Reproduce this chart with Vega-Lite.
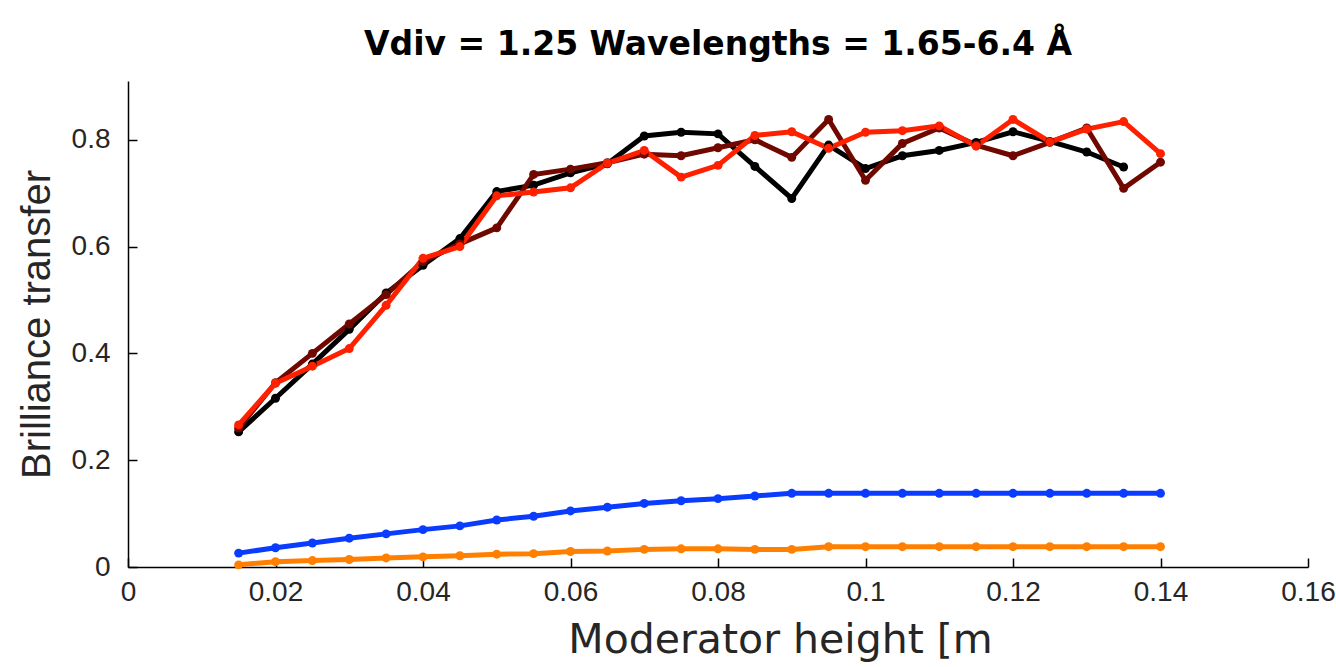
{
  "$schema": "https://vega.github.io/schema/vega-lite/v6.json",
  "autosize": "none",
  "width": 1180,
  "height": 486,
  "padding": {"left": 128, "top": 81, "right": 28, "bottom": 100},
  "background": "white",
  "config": {"view": {"stroke": null}, "font": "Liberation Sans"},
  "title": {"text": "Vdiv = 1.25 Wavelengths = 1.65-6.4 Å", "fontSize": 33, "fontWeight": "bold", "color": "#000000", "font": "DejaVu Sans", "offset": 19, "anchor": "middle"},
  "datasets": {
    "curves": [
      {"series": "black", "x": 0.015, "y": 0.253}, {"series": "black", "x": 0.02, "y": 0.316}, {"series": "black", "x": 0.025, "y": 0.38}, {"series": "black", "x": 0.03, "y": 0.445}, {"series": "black", "x": 0.035, "y": 0.513}, {"series": "black", "x": 0.04, "y": 0.565}, {"series": "black", "x": 0.045, "y": 0.615}, {"series": "black", "x": 0.05, "y": 0.703}, {"series": "black", "x": 0.055, "y": 0.715}, {"series": "black", "x": 0.06, "y": 0.738}, {"series": "black", "x": 0.065, "y": 0.755}, {"series": "black", "x": 0.07, "y": 0.807}, {"series": "black", "x": 0.075, "y": 0.814}, {"series": "black", "x": 0.08, "y": 0.811}, {"series": "black", "x": 0.085, "y": 0.75}, {"series": "black", "x": 0.09, "y": 0.69}, {"series": "black", "x": 0.095, "y": 0.79}, {"series": "black", "x": 0.1, "y": 0.746}, {"series": "black", "x": 0.105, "y": 0.77}, {"series": "black", "x": 0.11, "y": 0.78}, {"series": "black", "x": 0.115, "y": 0.795}, {"series": "black", "x": 0.12, "y": 0.815}, {"series": "black", "x": 0.125, "y": 0.797}, {"series": "black", "x": 0.13, "y": 0.777}, {"series": "black", "x": 0.135, "y": 0.749},
      {"series": "darkred", "x": 0.015, "y": 0.26}, {"series": "darkred", "x": 0.02, "y": 0.345}, {"series": "darkred", "x": 0.025, "y": 0.4}, {"series": "darkred", "x": 0.03, "y": 0.455}, {"series": "darkred", "x": 0.035, "y": 0.51}, {"series": "darkred", "x": 0.04, "y": 0.572}, {"series": "darkred", "x": 0.045, "y": 0.605}, {"series": "darkred", "x": 0.05, "y": 0.635}, {"series": "darkred", "x": 0.055, "y": 0.735}, {"series": "darkred", "x": 0.06, "y": 0.745}, {"series": "darkred", "x": 0.065, "y": 0.757}, {"series": "darkred", "x": 0.07, "y": 0.773}, {"series": "darkred", "x": 0.075, "y": 0.77}, {"series": "darkred", "x": 0.08, "y": 0.785}, {"series": "darkred", "x": 0.085, "y": 0.8}, {"series": "darkred", "x": 0.09, "y": 0.767}, {"series": "darkred", "x": 0.095, "y": 0.838}, {"series": "darkred", "x": 0.1, "y": 0.724}, {"series": "darkred", "x": 0.105, "y": 0.793}, {"series": "darkred", "x": 0.11, "y": 0.822}, {"series": "darkred", "x": 0.115, "y": 0.79}, {"series": "darkred", "x": 0.12, "y": 0.77}, {"series": "darkred", "x": 0.125, "y": 0.795}, {"series": "darkred", "x": 0.13, "y": 0.822}, {"series": "darkred", "x": 0.135, "y": 0.709}, {"series": "darkred", "x": 0.14, "y": 0.758},
      {"series": "red", "x": 0.015, "y": 0.266}, {"series": "red", "x": 0.02, "y": 0.344}, {"series": "red", "x": 0.025, "y": 0.376}, {"series": "red", "x": 0.03, "y": 0.409}, {"series": "red", "x": 0.035, "y": 0.49}, {"series": "red", "x": 0.04, "y": 0.578}, {"series": "red", "x": 0.045, "y": 0.6}, {"series": "red", "x": 0.05, "y": 0.695}, {"series": "red", "x": 0.055, "y": 0.702}, {"series": "red", "x": 0.06, "y": 0.71}, {"series": "red", "x": 0.065, "y": 0.756}, {"series": "red", "x": 0.07, "y": 0.78}, {"series": "red", "x": 0.075, "y": 0.73}, {"series": "red", "x": 0.08, "y": 0.752}, {"series": "red", "x": 0.085, "y": 0.808}, {"series": "red", "x": 0.09, "y": 0.815}, {"series": "red", "x": 0.095, "y": 0.784}, {"series": "red", "x": 0.1, "y": 0.814}, {"series": "red", "x": 0.105, "y": 0.817}, {"series": "red", "x": 0.11, "y": 0.826}, {"series": "red", "x": 0.115, "y": 0.788}, {"series": "red", "x": 0.12, "y": 0.838}, {"series": "red", "x": 0.125, "y": 0.796}, {"series": "red", "x": 0.13, "y": 0.82}, {"series": "red", "x": 0.135, "y": 0.834}, {"series": "red", "x": 0.14, "y": 0.774},
      {"series": "blue", "x": 0.015, "y": 0.026}, {"series": "blue", "x": 0.02, "y": 0.036}, {"series": "blue", "x": 0.025, "y": 0.045}, {"series": "blue", "x": 0.03, "y": 0.054}, {"series": "blue", "x": 0.035, "y": 0.062}, {"series": "blue", "x": 0.04, "y": 0.07}, {"series": "blue", "x": 0.045, "y": 0.077}, {"series": "blue", "x": 0.05, "y": 0.088}, {"series": "blue", "x": 0.055, "y": 0.095}, {"series": "blue", "x": 0.06, "y": 0.105}, {"series": "blue", "x": 0.065, "y": 0.112}, {"series": "blue", "x": 0.07, "y": 0.119}, {"series": "blue", "x": 0.075, "y": 0.124}, {"series": "blue", "x": 0.08, "y": 0.128}, {"series": "blue", "x": 0.085, "y": 0.133}, {"series": "blue", "x": 0.09, "y": 0.138}, {"series": "blue", "x": 0.095, "y": 0.138}, {"series": "blue", "x": 0.1, "y": 0.138}, {"series": "blue", "x": 0.105, "y": 0.138}, {"series": "blue", "x": 0.11, "y": 0.138}, {"series": "blue", "x": 0.115, "y": 0.138}, {"series": "blue", "x": 0.12, "y": 0.138}, {"series": "blue", "x": 0.125, "y": 0.138}, {"series": "blue", "x": 0.13, "y": 0.138}, {"series": "blue", "x": 0.135, "y": 0.138}, {"series": "blue", "x": 0.14, "y": 0.138},
      {"series": "orange", "x": 0.015, "y": 0.004}, {"series": "orange", "x": 0.02, "y": 0.01}, {"series": "orange", "x": 0.025, "y": 0.012}, {"series": "orange", "x": 0.03, "y": 0.014}, {"series": "orange", "x": 0.035, "y": 0.017}, {"series": "orange", "x": 0.04, "y": 0.019}, {"series": "orange", "x": 0.045, "y": 0.021}, {"series": "orange", "x": 0.05, "y": 0.024}, {"series": "orange", "x": 0.055, "y": 0.025}, {"series": "orange", "x": 0.06, "y": 0.029}, {"series": "orange", "x": 0.065, "y": 0.03}, {"series": "orange", "x": 0.07, "y": 0.033}, {"series": "orange", "x": 0.075, "y": 0.034}, {"series": "orange", "x": 0.08, "y": 0.034}, {"series": "orange", "x": 0.085, "y": 0.033}, {"series": "orange", "x": 0.09, "y": 0.033}, {"series": "orange", "x": 0.095, "y": 0.038}, {"series": "orange", "x": 0.1, "y": 0.038}, {"series": "orange", "x": 0.105, "y": 0.038}, {"series": "orange", "x": 0.11, "y": 0.038}, {"series": "orange", "x": 0.115, "y": 0.038}, {"series": "orange", "x": 0.12, "y": 0.038}, {"series": "orange", "x": 0.125, "y": 0.038}, {"series": "orange", "x": 0.13, "y": 0.038}, {"series": "orange", "x": 0.135, "y": 0.038}, {"series": "orange", "x": 0.14, "y": 0.038}
    ]
  },
  "data": {"name": "curves"},
  "encoding": {
    "x": {"field": "x", "type": "quantitative",
      "scale": {"domain": [0, 0.16], "nice": false, "zero": false},
      "axis": {"title": "Moderator height [m", "values": [0, 0.02, 0.04, 0.06, 0.08, 0.1, 0.12, 0.14, 0.16], "format": "~g", "grid": false,
        "domainColor": "#000000", "domainWidth": 1.5, "tickColor": "#000000", "tickWidth": 1.5, "tickSize": -9, "labelPadding": 20,
        "labelFontSize": 28, "labelColor": "#262626", "labelFont": "Liberation Sans", "labelFlush": false,
        "titleFontSize": 41, "titleFontWeight": "normal", "titleColor": "#262626", "titleFont": "DejaVu Sans", "titlePadding": 14, "titleX": 652}},
    "y": {"field": "y", "type": "quantitative",
      "scale": {"domain": [0, 0.91], "nice": false, "zero": false},
      "axis": {"title": "Brilliance transfer", "values": [0, 0.2, 0.4, 0.6, 0.8], "format": "~g", "grid": false,
        "domainColor": "#000000", "domainWidth": 1.5, "tickColor": "#000000", "tickWidth": 1.5, "tickSize": -9, "labelPadding": 27,
        "labelFontSize": 28, "labelColor": "#262626", "labelFont": "Liberation Sans", "labelFlush": false,
        "titleFontSize": 40, "titleFontWeight": "normal", "titleColor": "#262626", "titleFont": "Liberation Sans", "titlePadding": 14}},
    "color": {"field": "series", "type": "nominal",
      "scale": {"domain": ["blue", "orange", "black", "darkred", "red"], "range": ["#0a3cff", "#ff8000", "#000000", "#700800", "#ff2000"]},
      "legend": null},
    "order": {"field": "x"}
  },
  "layer": [
    {"mark": {"type": "line", "interpolate": "linear"},
     "encoding": {
       "detail": {"field": "series"},
       "strokeWidth": {"field": "series", "type": "nominal", "scale": {"domain": ["blue", "orange", "black", "darkred", "red"], "range": [5, 5, 2.5, 3.5, 3.5]}, "legend": null}
     }},
    {"mark": {"type": "point", "filled": true, "shape": "circle", "opacity": 1, "size": 80}}
  ]
}
